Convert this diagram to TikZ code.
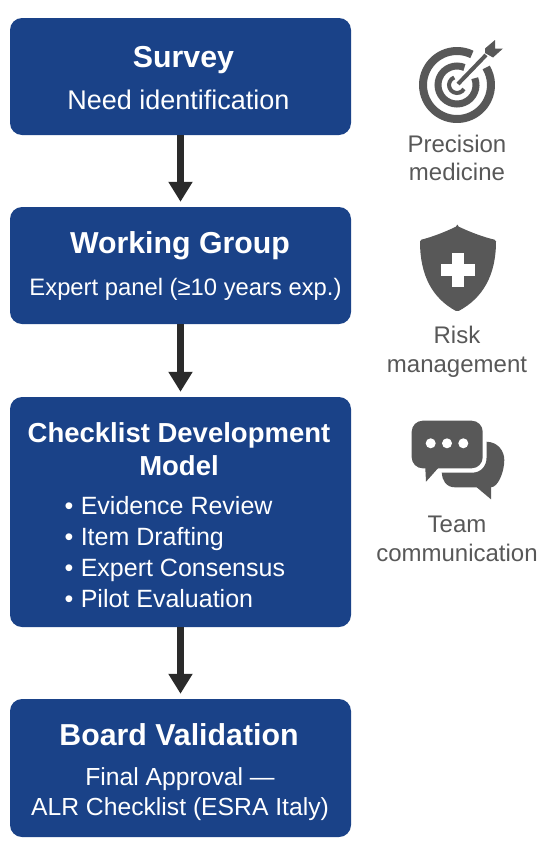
\documentclass[tikz,border=0pt]{standalone}
\usepackage{fontspec}
\setmainfont{Liberation Sans}
\usetikzlibrary{arrows.meta, positioning, calc}
\definecolor{BoxBlue}{HTML}{1A4288}
\definecolor{IconGrey}{HTML}{585858}
\definecolor{ArrowDark}{HTML}{2A2A2A}

\begin{document}
\begin{tikzpicture}[
        x=1pt, y=-1pt,
        stage/.style={fill=BoxBlue, rounded corners=12pt, minimum width=341pt, inner sep=0pt},
        head/.style={text=white, align=center, font=\fontsize{30.3}{34}\selectfont\bfseries},
        sub/.style={text=white, align=center, font=\fontsize{24.7}{30}\selectfont},
        caption/.style={text=IconGrey, align=center, font=\fontsize{24}{28.5}\selectfont},
        a/.style={-{Triangle[length=20pt,width=23pt]}, line width=7pt, ArrowDark, shorten >=5pt},
        ico/.style={fill=IconGrey, draw=none},
        ring/.style={IconGrey, draw},
      ]
        \useasboundingbox (0,0) rectangle (550,849);
        \node[stage, minimum height=117pt] (survey) at (180.5,76.5) {};
        \node[stage, minimum height=117pt] (group)  at (180.5,265.5) {};
        \node[stage, minimum height=230pt] (model)  at (180.5,512) {};
        \node[stage, minimum height=138pt] (board)  at (180.5,768) {};
        \draw[a] (survey) -- (group);
        \draw[a] (group) -- (model);
        \draw[a] (model) -- (board);
        % box texts
        \node[head] (surveyhead) at (183.5,60) {Survey};
        \node[sub, font=\fontsize{27}{30}\selectfont]  (surveysub)  at (178.5,100) {Need identification};
        \node[head] (grouphead)  at (180,246) {Working Group};
        \node[sub, font=\fontsize{23.8}{30}\selectfont]  (groupsub)   at (185.5,289) {Expert panel (≥10 years exp.)};
        \node[head, font=\fontsize{27.5}{33}\selectfont\bfseries] (modelhead)  at (179,449.5) {Checklist Development\\Model};
        \node[sub, align=left, anchor=north west, font=\fontsize{25}{31}\selectfont] (modelsub) at (61,493)
            {•\hspace{7.5pt}Evidence Review\\•\hspace{7.5pt}Item Drafting\\•\hspace{7.5pt}Expert Consensus\\•\hspace{7.5pt}Pilot Evaluation};
        \node[head] (boardhead)  at (179,735) {Board Validation};
        \node[sub]  (boardsub)   at (180,794) {Final Approval —\\ALR Checklist (ESRA Italy)};
        % target
        \draw[ring, line width=8pt] (457,85) ++(64:34pt) arc[start angle=64, end angle=391, radius=34pt];
        \draw[ring, line width=7pt] (457,85) ++(67:19pt) arc[start angle=67, end angle=381, radius=19pt];
        \draw[ring, line width=4pt] (457,85) ++(110:8pt) arc[start angle=110, end angle=330, radius=8pt];
        \draw[ring, line width=4pt] (458,84) -- (486,55);
        \fill[ico] (485,48.5) -- (495,40) -- (495,48.5) -- (503,48.5) -- (493,57.5) -- (485,53) -- cycle;
        \node[caption] (targetcap) at (457,158) {Precision\\medicine};
        % shield
        \fill[ico, rounded corners=1.5pt] (457.3,226) .. controls (445,232) and (432,237) .. (420,240)
            .. controls (420,275) and (432,298) .. (457.3,311.7)
            .. controls (483,298) and (496,275) .. (496,240)
            .. controls (483,237) and (470,232) .. (457.3,226) -- cycle;
        \fill[white] (451.5,253) rectangle (463.5,287);
        \fill[white] (441,264) rectangle (475,276);
        \node[caption] (shieldcap) at (457,352) {Risk\\management};
        % speech bubbles
        \fill[ico, rounded corners=11pt] (411.7,420.7) rectangle (482.7,468.3);
        \fill[ico] (425,462) -- (426,481.7) -- (440,466) -- cycle;
        \fill[ico] (486.5,441.7) .. controls (498,442) and (504.3,451) .. (504.3,460)
            .. controls (504.3,472) and (498,487.3) .. (491,487.3)
            -- (491,499.3) -- (476.7,487.3) -- (455,487.3)
            .. controls (446,487.3) and (442,480) .. (441.7,472.7)
            -- (472,472.7) .. controls (481,472.7) and (486.5,466) .. (486.5,458) -- cycle;
        \foreach \dotx in {430.7,447,463.3}
            \fill[white] (\dotx,443.3) circle[radius=5pt];
        \node[caption] (bubblecap) at (457,539) {Team\\communication};
      \end{tikzpicture}
\end{document}
